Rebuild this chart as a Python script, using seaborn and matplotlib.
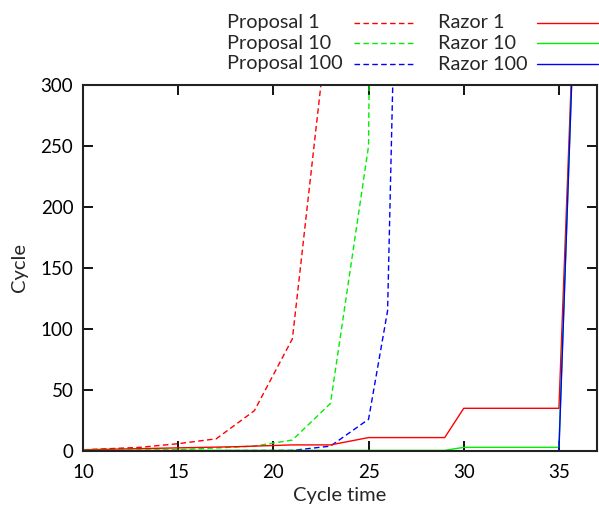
import matplotlib
matplotlib.use("Agg")
import matplotlib.pyplot as plt
from matplotlib.lines import Line2D
import seaborn as sns
import pandas as pd

# ---- data ----
prop1_x = [10, 13, 15, 17, 19, 21, 23]
prop1_y = [1, 3, 6, 10, 33, 92, 370]
prop10_x = [10, 15, 19, 21, 23, 25, 26]
prop10_y = [0.5, 1, 4, 9, 39, 250, 2000]
prop100_x = [10, 21, 23, 25, 26, 27]
prop100_y = [0, 0.5, 4, 26, 115, 800]
razor1_x = [10, 18, 21, 23, 25, 29, 30, 35, 36]
razor1_y = [1, 3.5, 5, 5, 11, 11, 35, 35, 450]
razor10_x = [10, 29, 30, 35, 36]
razor10_y = [0.5, 0.5, 3, 3, 450]
razor100_x = [10, 35, 36]
razor100_y = [0, 0, 450]

DASH = (0, (4, 2.4))
series = [
    ("Proposal 1", prop1_x, prop1_y, "#ff0000", DASH),
    ("Proposal 10", prop10_x, prop10_y, "#00ee00", DASH),
    ("Proposal 100", prop100_x, prop100_y, "#0000ff", DASH),
    ("Razor 1", razor1_x, razor1_y, "#ff0000", "-"),
    ("Razor 10", razor10_x, razor10_y, "#00ee00", "-"),
    ("Razor 100", razor100_x, razor100_y, "#0000ff", "-"),
]

sns.set_style("ticks")
plt.rcParams["font.family"] = ["Lato", "DejaVu Sans"]

W, H = 599, 509
fig = plt.figure(figsize=(W / 100, H / 100), dpi=100)
ax = fig.add_axes([83 / W, 1 - 451 / H, (597 - 83) / W, (451 - 85) / H])

for name, xs, ys, col, ls in series:
    df = pd.DataFrame({"x": xs, "y": ys})
    sns.lineplot(data=df, x="x", y="y", ax=ax, color=col, linewidth=1.0,
                 linestyle=ls, estimator=None, sort=False)

ax.set_xlim(10, 37)
ax.set_ylim(0, 300)
ax.set_xticks([10, 15, 20, 25, 30, 35])
ax.set_yticks([0, 50, 100, 150, 200, 250, 300])
ax.tick_params(direction="in", length=7, width=1.3, top=True, right=True,
               labelsize=13.5, colors="black")
ax.tick_params(axis="x", pad=9)
ax.tick_params(axis="y", pad=7)
for s in ax.spines.values():
    s.set_linewidth(1.5)
    s.set_color("#222222")
ax.set_xlabel("Cycle time", fontsize=14.5, labelpad=5)
ax.set_ylabel("Cycle", fontsize=14.5, labelpad=9)

# manual gnuplot-style legend
rows = [22.5, 43.3, 64]
cols = [(227, 354, 415), (438, 537, 598)]
for i, (name, xs, ys, col, ls) in enumerate(series):
    c = cols[i // 3]
    r = rows[i % 3]
    fig.text(c[0] / W, 1 - r / H, name, fontsize=14.3, ha="left", va="center")
    fig.add_artist(Line2D([c[1] / W, c[2] / W], [1 - r / H, 1 - r / H],
                          transform=fig.transFigure, color=col, linewidth=1.0,
                          linestyle=ls))

fig.savefig("out.png", dpi=100)
